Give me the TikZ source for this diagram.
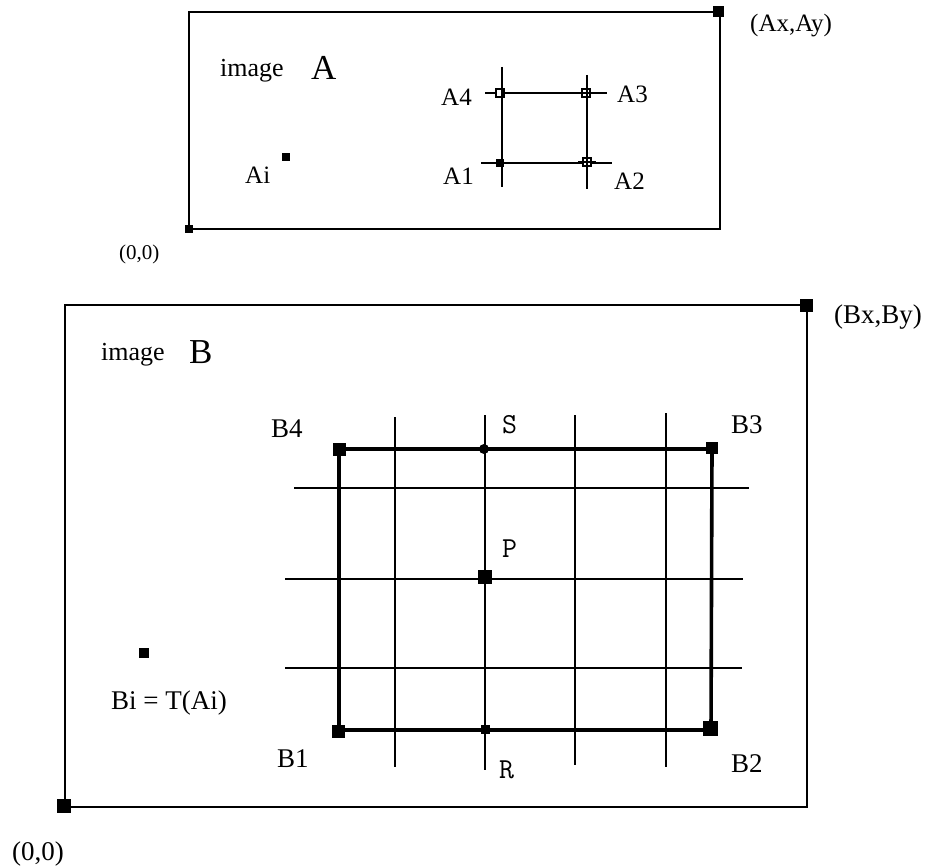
\documentclass[tikz,border=0pt]{standalone}
\usepackage{fontspec}
\setmainfont{Liberation Serif}
\tikzset{
  lbl/.style={anchor=base west,inner sep=0pt,font=\fontsize{25}{28}\selectfont},
  lblB/.style={anchor=base west,inner sep=0pt,font=\fontsize{27}{30}\selectfont},
  big/.style={anchor=base west,inner sep=0pt,font=\fontsize{35}{38}\selectfont},
  mono/.style={anchor=base west,inner sep=0pt,font=\ttfamily\fontsize{29}{32}\selectfont},
  sq/.style={rectangle,fill=black,inner sep=0pt,minimum size=#1},
  osq/.style={rectangle,draw=black,line width=1.3pt,fill=white,inner sep=0pt,minimum size=#1},
  frame/.style={line width=1.8pt},
  thin/.style={line width=1.4pt},
  thick/.style={line width=3.6pt},
}
\begin{document}
\begin{tikzpicture}[x=1pt,y=-1pt]
\useasboundingbox (0,0) rectangle (925,866);
% ---------- image A ----------
\coordinate (Aor) at (189,229);
\coordinate (Atr) at (720,12);
\draw[frame] (Aor) rectangle (Atr);
\node[sq=8pt] (A00) at (189,229) {};
\node[sq=11pt] (Amax) at (718,12) {};
\node[lbl] (Axy) at (750,32) {(Ax,Ay)};
\node[lbl,font=\fontsize{21}{24}\selectfont] (A0) at (119,260) {(0,0)};
\node[lbl,font=\fontsize{26}{29}\selectfont] (imA) at (220,77) {image};
\node[big] (bigA) at (311,80) {A};
\node[sq=8pt] (Ai) at (286,157) {};
\node[lbl] (Ailbl) at (245,184) {Ai};
% grid A
\draw[thin] (502,67) -- (502,187);
\draw[thin] (587,75) -- (587,189);
\draw[thin] (485,93) -- (607,93);
\draw[thin] (481,163) -- (612,163);
\node[osq=8pt] (A4) at (500,93) {};
\node[osq=8pt] (A3) at (586,93) {};
\node[sq=8pt] (A1) at (500,163) {};
\node[osq=8pt] (A2) at (587,162) {};
\draw[thin] (502,85) -- (502,101);
\draw[thin] (587,85) -- (587,101);
\draw[thin] (587,155) -- (587,171);
\draw[thin] (578,93) -- (596,93);
\draw[thin] (578,162) -- (596,162);
\node[lbl] (A4l) at (441,106) {A4};
\node[lbl] (A3l) at (617,103) {A3};
\node[lbl] (A1l) at (443,185) {A1};
\node[lbl] (A2l) at (614,190) {A2};
% ---------- image B ----------
\coordinate (Bor) at (65,807);
\coordinate (Btr) at (807,305);
\draw[frame] (Bor) rectangle (Btr);
\node[sq=14pt] (B00) at (64,806) {};
\node[sq=13pt] (Bmax) at (806,305) {};
\node[lblB] (Bxy) at (834,323) {(Bx,By)};
\node[lblB] (B0) at (12,860) {(0,0)};
\node[lbl,font=\fontsize{26}{29}\selectfont] (imB) at (101,360) {image};
\node[big] (bigB) at (189,363) {B};
\node[sq=10pt] (Bi) at (144,653) {};
\node[lblB] (Bilbl) at (111,709) {Bi = T(Ai)};
% thin grid B
\draw[thin] (395,417) -- (395,767);
\draw[thin] (485,415) -- (485,770);
\draw[thin] (575,415) -- (575,765);
\draw[thin] (666,413) -- (666,767);
\draw[thin] (294,488) -- (749,488);
\draw[thin] (285,579) -- (743,579);
\draw[thin] (285,668) -- (742,668);
% thick quad
\coordinate (c4) at (339,449);
\coordinate (c3) at (712,449);
\coordinate (c2) at (711,730);
\coordinate (c1) at (339,730);
\draw[thick] (c1) -- (c2) -- (c3) -- (c4) -- cycle;
\node[sq=13pt] (B4) at (339,449) {};
\node[sq=12pt] (B3) at (712,448) {};
\node[sq=13pt] (B1) at (338,731) {};
\node[sq=15pt] (B2) at (710,728) {};
\node[circle,fill=black,inner sep=0pt,minimum size=10pt] (S) at (484,449) {};
\node[sq=14pt] (P) at (484.5,577) {};
\node[sq=9pt] (R) at (485,729) {};
\node[lblB] (B4l) at (271,437) {B4};
\node[lblB] (B3l) at (731,433) {B3};
\node[lblB] (B1l) at (277,767) {B1};
\node[lblB] (B2l) at (731,772) {B2};
\node[mono] (Sl) at (502,433) {S};
\node[mono] (Pl) at (502,557) {P};
\node[mono] (Rl) at (499,778) {R};
\end{tikzpicture}
\end{document}
